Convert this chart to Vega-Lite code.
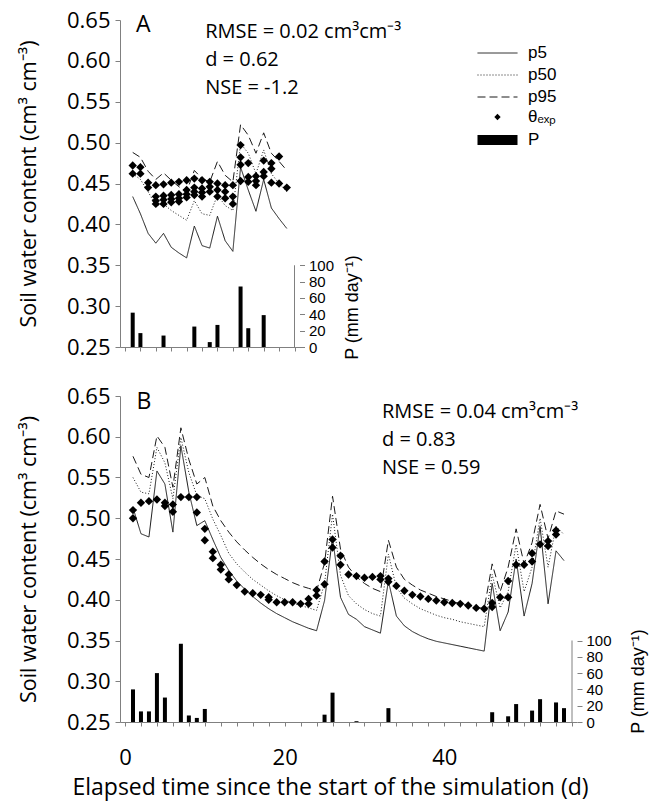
{
  "$schema": "https://vega.github.io/schema/vega-lite/v6.json",
  "padding": {"left": 18, "top": 9, "right": 5, "bottom": 5},
  "spacing": 25,
  "config": {
    "view": {"stroke": null},
    "font": "Open Sans",
    "axis": {"domainColor": "#808080", "tickColor": "#808080", "labelColor": "#000", "titleColor": "#000", "grid": false, "labelFontWeight": "normal", "titleFontWeight": "normal", "labelFlush": false, "labelOverlap": false}
  },
  "datasets": {
    "linesA": [
      {"day": 1, "p5": 0.434, "p50": 0.462, "p95": 0.488},
      {"day": 2, "p5": 0.413, "p50": 0.455, "p95": 0.482},
      {"day": 3, "p5": 0.389, "p50": 0.440, "p95": 0.465},
      {"day": 4, "p5": 0.377, "p50": 0.423, "p95": 0.455},
      {"day": 5, "p5": 0.389, "p50": 0.425, "p95": 0.463},
      {"day": 6, "p5": 0.372, "p50": 0.417, "p95": 0.454},
      {"day": 7, "p5": 0.365, "p50": 0.411, "p95": 0.446},
      {"day": 8, "p5": 0.359, "p50": 0.405, "p95": 0.440},
      {"day": 9, "p5": 0.398, "p50": 0.429, "p95": 0.466},
      {"day": 10, "p5": 0.374, "p50": 0.413, "p95": 0.456},
      {"day": 11, "p5": 0.371, "p50": 0.411, "p95": 0.452},
      {"day": 12, "p5": 0.410, "p50": 0.436, "p95": 0.477},
      {"day": 13, "p5": 0.380, "p50": 0.423, "p95": 0.460},
      {"day": 14, "p5": 0.367, "p50": 0.417, "p95": 0.452},
      {"day": 15, "p5": 0.470, "p50": 0.499, "p95": 0.522},
      {"day": 16, "p5": 0.442, "p50": 0.487, "p95": 0.509},
      {"day": 17, "p5": 0.416, "p50": 0.462, "p95": 0.487},
      {"day": 18, "p5": 0.455, "p50": 0.491, "p95": 0.512},
      {"day": 19, "p5": 0.420, "p50": 0.462, "p95": 0.487},
      {"day": 20, "p5": 0.407, "p50": 0.450, "p95": 0.477},
      {"day": 21, "p5": 0.395, "p50": 0.440, "p95": 0.466}
    ],
    "obsA": [
      {"day": 1, "v": 0.472}, {"day": 1, "v": 0.462},
      {"day": 2, "v": 0.470}, {"day": 2, "v": 0.462},
      {"day": 3, "v": 0.451}, {"day": 3, "v": 0.445},
      {"day": 4, "v": 0.448}, {"day": 4, "v": 0.434}, {"day": 4, "v": 0.429}, {"day": 4, "v": 0.425},
      {"day": 5, "v": 0.449}, {"day": 5, "v": 0.435}, {"day": 5, "v": 0.430}, {"day": 5, "v": 0.425},
      {"day": 6, "v": 0.451}, {"day": 6, "v": 0.436}, {"day": 6, "v": 0.431}, {"day": 6, "v": 0.427},
      {"day": 7, "v": 0.452}, {"day": 7, "v": 0.437}, {"day": 7, "v": 0.432}, {"day": 7, "v": 0.428},
      {"day": 8, "v": 0.454}, {"day": 8, "v": 0.442}, {"day": 8, "v": 0.437}, {"day": 8, "v": 0.433},
      {"day": 9, "v": 0.456}, {"day": 9, "v": 0.445}, {"day": 9, "v": 0.440}, {"day": 9, "v": 0.436},
      {"day": 10, "v": 0.454}, {"day": 10, "v": 0.444}, {"day": 10, "v": 0.439}, {"day": 10, "v": 0.434},
      {"day": 11, "v": 0.452}, {"day": 11, "v": 0.446}, {"day": 11, "v": 0.440},
      {"day": 12, "v": 0.450}, {"day": 12, "v": 0.442}, {"day": 12, "v": 0.434},
      {"day": 13, "v": 0.448}, {"day": 13, "v": 0.440}, {"day": 13, "v": 0.432},
      {"day": 14, "v": 0.448}, {"day": 14, "v": 0.434}, {"day": 14, "v": 0.425},
      {"day": 15, "v": 0.497}, {"day": 15, "v": 0.482}, {"day": 15, "v": 0.473}, {"day": 15, "v": 0.453},
      {"day": 16, "v": 0.475}, {"day": 16, "v": 0.458}, {"day": 16, "v": 0.452},
      {"day": 17, "v": 0.459}, {"day": 17, "v": 0.453}, {"day": 17, "v": 0.448},
      {"day": 18, "v": 0.478}, {"day": 18, "v": 0.464}, {"day": 18, "v": 0.459},
      {"day": 19, "v": 0.475}, {"day": 19, "v": 0.468}, {"day": 19, "v": 0.451},
      {"day": 20, "v": 0.483}, {"day": 20, "v": 0.450},
      {"day": 21, "v": 0.445}
    ],
    "rainA": [
      {"day": 1, "P": 42}, {"day": 2, "P": 17}, {"day": 5, "P": 14}, {"day": 9, "P": 25},
      {"day": 11, "P": 6}, {"day": 12, "P": 27}, {"day": 15, "P": 74}, {"day": 16, "P": 23}, {"day": 18, "P": 39}
    ],
    "linesB": [
      {"day": 1, "p5": 0.513, "p50": 0.550, "p95": 0.576},
      {"day": 2, "p5": 0.481, "p50": 0.532, "p95": 0.554},
      {"day": 3, "p5": 0.477, "p50": 0.530, "p95": 0.550},
      {"day": 4, "p5": 0.558, "p50": 0.587, "p95": 0.601},
      {"day": 5, "p5": 0.542, "p50": 0.568, "p95": 0.587},
      {"day": 6, "p5": 0.483, "p50": 0.524, "p95": 0.538},
      {"day": 7, "p5": 0.589, "p50": 0.599, "p95": 0.611},
      {"day": 8, "p5": 0.532, "p50": 0.556, "p95": 0.572},
      {"day": 9, "p5": 0.491, "p50": 0.528, "p95": 0.542},
      {"day": 10, "p5": 0.497, "p50": 0.524, "p95": 0.550},
      {"day": 11, "p5": 0.474, "p50": 0.499, "p95": 0.515},
      {"day": 12, "p5": 0.452, "p50": 0.479, "p95": 0.497},
      {"day": 13, "p5": 0.436, "p50": 0.457, "p95": 0.483},
      {"day": 14, "p5": 0.423, "p50": 0.444, "p95": 0.471},
      {"day": 15, "p5": 0.413, "p50": 0.434, "p95": 0.461},
      {"day": 16, "p5": 0.404, "p50": 0.425, "p95": 0.452},
      {"day": 17, "p5": 0.396, "p50": 0.418, "p95": 0.444},
      {"day": 18, "p5": 0.389, "p50": 0.411, "p95": 0.437},
      {"day": 19, "p5": 0.383, "p50": 0.405, "p95": 0.431},
      {"day": 20, "p5": 0.378, "p50": 0.400, "p95": 0.426},
      {"day": 21, "p5": 0.373, "p50": 0.396, "p95": 0.421},
      {"day": 22, "p5": 0.369, "p50": 0.393, "p95": 0.417},
      {"day": 23, "p5": 0.365, "p50": 0.390, "p95": 0.414},
      {"day": 24, "p5": 0.362, "p50": 0.387, "p95": 0.411},
      {"day": 25, "p5": 0.399, "p50": 0.420, "p95": 0.445},
      {"day": 26, "p5": 0.476, "p50": 0.505, "p95": 0.527},
      {"day": 27, "p5": 0.403, "p50": 0.430, "p95": 0.462},
      {"day": 28, "p5": 0.382, "p50": 0.405, "p95": 0.440},
      {"day": 29, "p5": 0.376, "p50": 0.395, "p95": 0.428},
      {"day": 30, "p5": 0.367, "p50": 0.388, "p95": 0.420},
      {"day": 31, "p5": 0.363, "p50": 0.383, "p95": 0.414},
      {"day": 32, "p5": 0.359, "p50": 0.380, "p95": 0.410},
      {"day": 33, "p5": 0.423, "p50": 0.456, "p95": 0.473},
      {"day": 34, "p5": 0.380, "p50": 0.415, "p95": 0.440},
      {"day": 35, "p5": 0.368, "p50": 0.402, "p95": 0.425},
      {"day": 36, "p5": 0.361, "p50": 0.395, "p95": 0.418},
      {"day": 37, "p5": 0.356, "p50": 0.389, "p95": 0.412},
      {"day": 38, "p5": 0.352, "p50": 0.385, "p95": 0.408},
      {"day": 39, "p5": 0.349, "p50": 0.381, "p95": 0.404},
      {"day": 40, "p5": 0.347, "p50": 0.378, "p95": 0.401},
      {"day": 41, "p5": 0.345, "p50": 0.376, "p95": 0.398},
      {"day": 42, "p5": 0.343, "p50": 0.373, "p95": 0.395},
      {"day": 43, "p5": 0.341, "p50": 0.371, "p95": 0.393},
      {"day": 44, "p5": 0.339, "p50": 0.369, "p95": 0.391},
      {"day": 45, "p5": 0.337, "p50": 0.367, "p95": 0.389},
      {"day": 46, "p5": 0.420, "p50": 0.431, "p95": 0.444},
      {"day": 47, "p5": 0.362, "p50": 0.390, "p95": 0.410},
      {"day": 48, "p5": 0.385, "p50": 0.410, "p95": 0.440},
      {"day": 49, "p5": 0.450, "p50": 0.468, "p95": 0.487},
      {"day": 50, "p5": 0.380, "p50": 0.410, "p95": 0.444},
      {"day": 51, "p5": 0.420, "p50": 0.440, "p95": 0.470},
      {"day": 52, "p5": 0.490, "p50": 0.500, "p95": 0.517},
      {"day": 53, "p5": 0.395, "p50": 0.440, "p95": 0.475},
      {"day": 54, "p5": 0.460, "p50": 0.490, "p95": 0.509},
      {"day": 55, "p5": 0.448, "p50": 0.480, "p95": 0.505}
    ],
    "obsB": [
      {"day": 1, "v": 0.510}, {"day": 1, "v": 0.500},
      {"day": 2, "v": 0.519}, {"day": 3, "v": 0.521}, {"day": 4, "v": 0.523},
      {"day": 5, "v": 0.519}, {"day": 5, "v": 0.515},
      {"day": 6, "v": 0.517}, {"day": 6, "v": 0.508},
      {"day": 7, "v": 0.526}, {"day": 8, "v": 0.526},
      {"day": 9, "v": 0.526}, {"day": 9, "v": 0.507},
      {"day": 10, "v": 0.487}, {"day": 10, "v": 0.473},
      {"day": 11, "v": 0.459}, {"day": 11, "v": 0.451},
      {"day": 12, "v": 0.443}, {"day": 12, "v": 0.437},
      {"day": 13, "v": 0.431}, {"day": 13, "v": 0.425},
      {"day": 14, "v": 0.418}, {"day": 15, "v": 0.410}, {"day": 16, "v": 0.408}, {"day": 17, "v": 0.406},
      {"day": 18, "v": 0.403}, {"day": 18, "v": 0.400},
      {"day": 19, "v": 0.397}, {"day": 20, "v": 0.397}, {"day": 21, "v": 0.397}, {"day": 22, "v": 0.395},
      {"day": 23, "v": 0.401}, {"day": 23, "v": 0.395},
      {"day": 24, "v": 0.412}, {"day": 24, "v": 0.405},
      {"day": 25, "v": 0.447}, {"day": 25, "v": 0.419},
      {"day": 26, "v": 0.474}, {"day": 26, "v": 0.464},
      {"day": 27, "v": 0.454}, {"day": 27, "v": 0.443},
      {"day": 28, "v": 0.431}, {"day": 29, "v": 0.429}, {"day": 30, "v": 0.427}, {"day": 31, "v": 0.428},
      {"day": 32, "v": 0.429}, {"day": 32, "v": 0.425},
      {"day": 33, "v": 0.426}, {"day": 33, "v": 0.422},
      {"day": 34, "v": 0.417}, {"day": 35, "v": 0.411}, {"day": 36, "v": 0.406}, {"day": 37, "v": 0.404},
      {"day": 38, "v": 0.401}, {"day": 39, "v": 0.399}, {"day": 40, "v": 0.397}, {"day": 41, "v": 0.396},
      {"day": 42, "v": 0.395}, {"day": 43, "v": 0.393}, {"day": 44, "v": 0.390}, {"day": 45, "v": 0.389},
      {"day": 46, "v": 0.396}, {"day": 46, "v": 0.391},
      {"day": 47, "v": 0.403},
      {"day": 48, "v": 0.423}, {"day": 48, "v": 0.403},
      {"day": 49, "v": 0.443}, {"day": 50, "v": 0.443},
      {"day": 51, "v": 0.457}, {"day": 51, "v": 0.447},
      {"day": 52, "v": 0.468},
      {"day": 53, "v": 0.472}, {"day": 53, "v": 0.466},
      {"day": 54, "v": 0.485}, {"day": 54, "v": 0.480}
    ],
    "rainB": [
      {"day": 1, "P": 40}, {"day": 2, "P": 13}, {"day": 3, "P": 13}, {"day": 4, "P": 60}, {"day": 5, "P": 30},
      {"day": 7, "P": 96}, {"day": 8, "P": 8}, {"day": 9, "P": 5}, {"day": 10, "P": 16},
      {"day": 25, "P": 9}, {"day": 26, "P": 36}, {"day": 29, "P": 1}, {"day": 33, "P": 17},
      {"day": 46, "P": 12}, {"day": 48, "P": 7}, {"day": 49, "P": 22}, {"day": 51, "P": 14},
      {"day": 52, "P": 28}, {"day": 54, "P": 24}, {"day": 55, "P": 17}
    ]
  },
  "resolve": {"scale": {"x": "independent", "y": "independent", "strokeDash": "independent", "shape": "independent", "fill": "independent"}},
  "vconcat": [
    {
      "width": 179.5,
      "height": 327,
      "layer": [
        {
          "layer": [
            {
              "data": {"name": "linesA"},
              "transform": [{"fold": ["p5", "p50", "p95"], "as": ["series", "v"]}],
              "mark": {"type": "line", "strokeWidth": 1, "color": "#1a1a1a"},
              "encoding": {
                "x": {"field": "day", "type": "quantitative", "scale": {"domain": [0, 22], "nice": false, "zero": false},
                  "axis": {"values": [0, 2, 4, 6, 8, 10, 12, 14, 16, 18, 20, 22], "labels": false, "tickSize": 4, "title": null}},
                "y": {"field": "v", "type": "quantitative", "scale": {"domain": [0.25, 0.65], "nice": false, "zero": false},
                  "axis": {"orient": "left", "values": [0.25, 0.3, 0.35, 0.4, 0.45, 0.5, 0.55, 0.6, 0.65], "format": ".2f", "labelFontSize": 22, "labelPadding": 5, "tickSize": 5, "title": "Soil water content (cm³ cm⁻³)", "titleFontSize": 21.5, "titlePadding": 26}},
                "strokeDash": {"field": "series", "type": "nominal", "scale": {"domain": ["p5", "p50", "p95"], "range": [[1, 0], [1, 2], [8, 4]]},
                  "legend": {"orient": "none", "legendX": 357, "legendY": 24.5, "title": null, "symbolType": "stroke", "symbolSize": 1600, "clipHeight": 17, "symbolStrokeWidth": 1, "symbolStrokeColor": "#1a1a1a", "labelFont": "Liberation Sans", "labelFontSize": 17, "labelOffset": 10, "rowPadding": 4, "padding": 0}}
              }
            },
            {
              "data": {"name": "obsA"},
              "mark": {"type": "point", "filled": true, "size": 70, "opacity": 1, "color": "black"},
              "encoding": {
                "x": {"field": "day", "type": "quantitative", "scale": {"domain": [0, 22], "nice": false, "zero": false},
                  "axis": {"values": [0, 2, 4, 6, 8, 10, 12, 14, 16, 18, 20, 22], "labels": false, "tickSize": 4, "title": null}},
                "y": {"field": "v", "type": "quantitative", "scale": {"domain": [0.25, 0.65], "nice": false, "zero": false},
                  "axis": {"orient": "left", "values": [0.25, 0.3, 0.35, 0.4, 0.45, 0.5, 0.55, 0.6, 0.65], "format": ".2f", "labelFontSize": 22, "labelPadding": 5, "tickSize": 5, "title": "Soil water content (cm³ cm⁻³)", "titleFontSize": 21.5, "titlePadding": 26}},
                "shape": {"datum": "θₑₓₚ", "type": "nominal", "scale": {"range": ["diamond"]},
                  "legend": {"orient": "none", "legendX": 369, "legendY": 88.5, "title": null, "symbolSize": 40, "clipHeight": 17, "symbolFillColor": "black", "symbolStrokeWidth": 0, "labelFont": "Liberation Sans", "labelFontSize": 17, "labelOffset": 22, "padding": 0}}
              }
            },
            {
              "data": {"values": [{}]},
              "mark": {"type": "text", "text": "A", "font": "Open Sans", "fontSize": 23, "align": "left", "baseline": "alphabetic", "color": "black"},
              "encoding": {
                "x": {"datum": 1.43, "type": "quantitative", "scale": {"domain": [0, 22], "nice": false, "zero": false},
                  "axis": {"values": [0, 2, 4, 6, 8, 10, 12, 14, 16, 18, 20, 22], "labels": false, "tickSize": 4, "title": null}},
                "y": {"datum": 0.635, "type": "quantitative", "scale": {"domain": [0.25, 0.65], "nice": false, "zero": false},
                  "axis": {"orient": "left", "values": [0.25, 0.3, 0.35, 0.4, 0.45, 0.5, 0.55, 0.6, 0.65], "format": ".2f", "labelFontSize": 22, "labelPadding": 5, "tickSize": 5, "title": "Soil water content (cm³ cm⁻³)", "titleFontSize": 21.5, "titlePadding": 26}}
              }
            },
            {
              "data": {"values": [{}]},
              "mark": {"type": "text", "text": ["RMSE = 0.02 cm³cm⁻³", "d = 0.62", "NSE = -1.2"], "font": "Open Sans", "fontSize": 20, "lineHeight": 28, "align": "left", "baseline": "alphabetic", "color": "black"},
              "encoding": {
                "x": {"datum": 10.4, "type": "quantitative", "scale": {"domain": [0, 22], "nice": false, "zero": false},
                  "axis": {"values": [0, 2, 4, 6, 8, 10, 12, 14, 16, 18, 20, 22], "labels": false, "tickSize": 4, "title": null}},
                "y": {"datum": 0.628, "type": "quantitative", "scale": {"domain": [0.25, 0.65], "nice": false, "zero": false},
                  "axis": {"orient": "left", "values": [0.25, 0.3, 0.35, 0.4, 0.45, 0.5, 0.55, 0.6, 0.65], "format": ".2f", "labelFontSize": 22, "labelPadding": 5, "tickSize": 5, "title": "Soil water content (cm³ cm⁻³)", "titleFontSize": 21.5, "titlePadding": 26}}
              }
            }
          ]
        },
        {
          "layer": [
            {
              "data": {"name": "rainA"},
              "mark": {"type": "bar", "width": 4},
              "encoding": {
                "x": {"field": "day", "type": "quantitative", "scale": {"domain": [0, 22], "nice": false, "zero": false},
                  "axis": {"values": [0, 2, 4, 6, 8, 10, 12, 14, 16, 18, 20, 22], "labels": false, "tickSize": 4, "title": null}},
                "y": {"field": "P", "type": "quantitative", "scale": {"domain": [0, 400], "nice": false},
                  "axis": {"orient": "right", "values": [0, 20, 40, 60, 80, 100], "domain": false, "tickSize": 5, "labelFont": "Liberation Sans", "labelFontSize": 15, "labelPadding": 4, "title": "P (mm day⁻¹)", "titleFont": "Liberation Sans", "titleFontSize": 18, "titleAngle": 270, "titleX": 53, "titleY": 287, "titleAlign": "center", "titleBaseline": "middle"}},
                "fill": {"datum": "P", "type": "nominal", "scale": {"range": ["black"]},
                  "legend": {"orient": "none", "legendX": 352.5, "legendY": 111.5, "title": null, "symbolType": "stroke", "symbolSize": 1600, "clipHeight": 17, "symbolStrokeWidth": 10, "symbolStrokeColor": "black", "labelFont": "Liberation Sans", "labelFontSize": 17, "labelOffset": 5.5, "padding": 0}}
              }
            },
            {
              "data": {"values": [{}]},
              "mark": {"type": "rule", "color": "#808080", "strokeWidth": 1},
              "encoding": {
                "x": {"datum": 22, "type": "quantitative", "scale": {"domain": [0, 22], "nice": false, "zero": false},
                  "axis": {"values": [0, 2, 4, 6, 8, 10, 12, 14, 16, 18, 20, 22], "labels": false, "tickSize": 4, "title": null}},
                "y": {"datum": 0, "type": "quantitative", "scale": {"domain": [0, 400], "nice": false},
                  "axis": {"orient": "right", "values": [0, 20, 40, 60, 80, 100], "domain": false, "tickSize": 5, "labelFont": "Liberation Sans", "labelFontSize": 15, "labelPadding": 4, "title": "P (mm day⁻¹)", "titleFont": "Liberation Sans", "titleFontSize": 18, "titleAngle": 270, "titleX": 53, "titleY": 287, "titleAlign": "center", "titleBaseline": "middle"}},
                "y2": {"datum": 100}
              }
            }
          ]
        }
      ],
      "resolve": {"scale": {"y": "independent"}}
    },
    {
      "width": 457,
      "height": 326,
      "layer": [
        {
          "layer": [
            {
              "data": {"name": "linesB"},
              "transform": [{"fold": ["p5", "p50", "p95"], "as": ["series", "v"]}],
              "mark": {"type": "line", "strokeWidth": 1, "color": "#1a1a1a"},
              "encoding": {
                "x": {"field": "day", "type": "quantitative", "scale": {"domain": [0, 56], "nice": false, "zero": false},
                  "axis": {"values": [0, 2, 4, 6, 8, 10, 12, 14, 16, 18, 20, 22, 24, 26, 28, 30, 32, 34, 36, 38, 40, 42, 44, 46, 48, 50, 52, 54, 56], "labelExpr": "datum.value % 20 === 0 ? datum.label : ''", "tickSize": 4, "labelFontSize": 22, "labelPadding": 21, "title": "Elapsed time since the start of the simulation (d)", "titleFontSize": 23, "titleX": 210, "titleY": 65, "titleAlign": "center", "titleBaseline": "middle"}},
                "y": {"field": "v", "type": "quantitative", "scale": {"domain": [0.25, 0.65], "nice": false, "zero": false},
                  "axis": {"orient": "left", "values": [0.25, 0.3, 0.35, 0.4, 0.45, 0.5, 0.55, 0.6, 0.65], "format": ".2f", "labelFontSize": 22, "labelPadding": 5, "tickSize": 5, "title": "Soil water content (cm³ cm⁻³)", "titleFontSize": 21.5, "titlePadding": 26}},
                "strokeDash": {"field": "series", "type": "nominal", "scale": {"domain": ["p5", "p50", "p95"], "range": [[1, 0], [1, 2], [8, 4]]}, "legend": null}
              }
            },
            {
              "data": {"name": "obsB"},
              "mark": {"type": "point", "filled": true, "size": 70, "opacity": 1, "color": "black", "shape": "diamond"},
              "encoding": {
                "x": {"field": "day", "type": "quantitative", "scale": {"domain": [0, 56], "nice": false, "zero": false},
                  "axis": {"values": [0, 2, 4, 6, 8, 10, 12, 14, 16, 18, 20, 22, 24, 26, 28, 30, 32, 34, 36, 38, 40, 42, 44, 46, 48, 50, 52, 54, 56], "labelExpr": "datum.value % 20 === 0 ? datum.label : ''", "tickSize": 4, "labelFontSize": 22, "labelPadding": 21, "title": "Elapsed time since the start of the simulation (d)", "titleFontSize": 23, "titleX": 210, "titleY": 65, "titleAlign": "center", "titleBaseline": "middle"}},
                "y": {"field": "v", "type": "quantitative", "scale": {"domain": [0.25, 0.65], "nice": false, "zero": false},
                  "axis": {"orient": "left", "values": [0.25, 0.3, 0.35, 0.4, 0.45, 0.5, 0.55, 0.6, 0.65], "format": ".2f", "labelFontSize": 22, "labelPadding": 5, "tickSize": 5, "title": "Soil water content (cm³ cm⁻³)", "titleFontSize": 21.5, "titlePadding": 26}}
              }
            },
            {
              "data": {"values": [{}]},
              "mark": {"type": "text", "text": "B", "font": "Open Sans", "fontSize": 23, "align": "left", "baseline": "alphabetic", "color": "black"},
              "encoding": {
                "x": {"datum": 1.43, "type": "quantitative", "scale": {"domain": [0, 56], "nice": false, "zero": false},
                  "axis": {"values": [0, 2, 4, 6, 8, 10, 12, 14, 16, 18, 20, 22, 24, 26, 28, 30, 32, 34, 36, 38, 40, 42, 44, 46, 48, 50, 52, 54, 56], "labelExpr": "datum.value % 20 === 0 ? datum.label : ''", "tickSize": 4, "labelFontSize": 22, "labelPadding": 21, "title": "Elapsed time since the start of the simulation (d)", "titleFontSize": 23, "titleX": 210, "titleY": 65, "titleAlign": "center", "titleBaseline": "middle"}},
                "y": {"datum": 0.634, "type": "quantitative", "scale": {"domain": [0.25, 0.65], "nice": false, "zero": false},
                  "axis": {"orient": "left", "values": [0.25, 0.3, 0.35, 0.4, 0.45, 0.5, 0.55, 0.6, 0.65], "format": ".2f", "labelFontSize": 22, "labelPadding": 5, "tickSize": 5, "title": "Soil water content (cm³ cm⁻³)", "titleFontSize": 21.5, "titlePadding": 26}}
              }
            },
            {
              "data": {"values": [{}]},
              "mark": {"type": "text", "text": ["RMSE = 0.04 cm³cm⁻³", "d = 0.83", "NSE = 0.59"], "font": "Open Sans", "fontSize": 20, "lineHeight": 28, "align": "left", "baseline": "alphabetic", "color": "black"},
              "encoding": {
                "x": {"datum": 32.2, "type": "quantitative", "scale": {"domain": [0, 56], "nice": false, "zero": false},
                  "axis": {"values": [0, 2, 4, 6, 8, 10, 12, 14, 16, 18, 20, 22, 24, 26, 28, 30, 32, 34, 36, 38, 40, 42, 44, 46, 48, 50, 52, 54, 56], "labelExpr": "datum.value % 20 === 0 ? datum.label : ''", "tickSize": 4, "labelFontSize": 22, "labelPadding": 21, "title": "Elapsed time since the start of the simulation (d)", "titleFontSize": 23, "titleX": 210, "titleY": 65, "titleAlign": "center", "titleBaseline": "middle"}},
                "y": {"datum": 0.623, "type": "quantitative", "scale": {"domain": [0.25, 0.65], "nice": false, "zero": false},
                  "axis": {"orient": "left", "values": [0.25, 0.3, 0.35, 0.4, 0.45, 0.5, 0.55, 0.6, 0.65], "format": ".2f", "labelFontSize": 22, "labelPadding": 5, "tickSize": 5, "title": "Soil water content (cm³ cm⁻³)", "titleFontSize": 21.5, "titlePadding": 26}}
              }
            }
          ]
        },
        {
          "layer": [
            {
              "data": {"name": "rainB"},
              "mark": {"type": "bar", "width": 4, "color": "black"},
              "encoding": {
                "x": {"field": "day", "type": "quantitative", "scale": {"domain": [0, 56], "nice": false, "zero": false},
                  "axis": {"values": [0, 2, 4, 6, 8, 10, 12, 14, 16, 18, 20, 22, 24, 26, 28, 30, 32, 34, 36, 38, 40, 42, 44, 46, 48, 50, 52, 54, 56], "labelExpr": "datum.value % 20 === 0 ? datum.label : ''", "tickSize": 4, "labelFontSize": 22, "labelPadding": 21, "title": "Elapsed time since the start of the simulation (d)", "titleFontSize": 23, "titleX": 210, "titleY": 65, "titleAlign": "center", "titleBaseline": "middle"}},
                "y": {"field": "P", "type": "quantitative", "scale": {"domain": [0, 400], "nice": false},
                  "axis": {"orient": "right", "values": [0, 20, 40, 60, 80, 100], "domain": false, "tickSize": 5, "labelFont": "Liberation Sans", "labelFontSize": 15, "labelPadding": 4, "title": "P (mm day⁻¹)", "titleFont": "Liberation Sans", "titleFontSize": 18, "titleAngle": 270, "titleX": 61, "titleY": 285, "titleAlign": "center", "titleBaseline": "middle"}}
              }
            },
            {
              "data": {"values": [{}]},
              "mark": {"type": "rule", "color": "#808080", "strokeWidth": 1},
              "encoding": {
                "x": {"datum": 56, "type": "quantitative", "scale": {"domain": [0, 56], "nice": false, "zero": false},
                  "axis": {"values": [0, 2, 4, 6, 8, 10, 12, 14, 16, 18, 20, 22, 24, 26, 28, 30, 32, 34, 36, 38, 40, 42, 44, 46, 48, 50, 52, 54, 56], "labelExpr": "datum.value % 20 === 0 ? datum.label : ''", "tickSize": 4, "labelFontSize": 22, "labelPadding": 21, "title": "Elapsed time since the start of the simulation (d)", "titleFontSize": 23, "titleX": 210, "titleY": 65, "titleAlign": "center", "titleBaseline": "middle"}},
                "y": {"datum": 0, "type": "quantitative", "scale": {"domain": [0, 400], "nice": false},
                  "axis": {"orient": "right", "values": [0, 20, 40, 60, 80, 100], "domain": false, "tickSize": 5, "labelFont": "Liberation Sans", "labelFontSize": 15, "labelPadding": 4, "title": "P (mm day⁻¹)", "titleFont": "Liberation Sans", "titleFontSize": 18, "titleAngle": 270, "titleX": 61, "titleY": 285, "titleAlign": "center", "titleBaseline": "middle"}},
                "y2": {"datum": 100}
              }
            }
          ]
        }
      ],
      "resolve": {"scale": {"y": "independent"}}
    }
  ]
}
